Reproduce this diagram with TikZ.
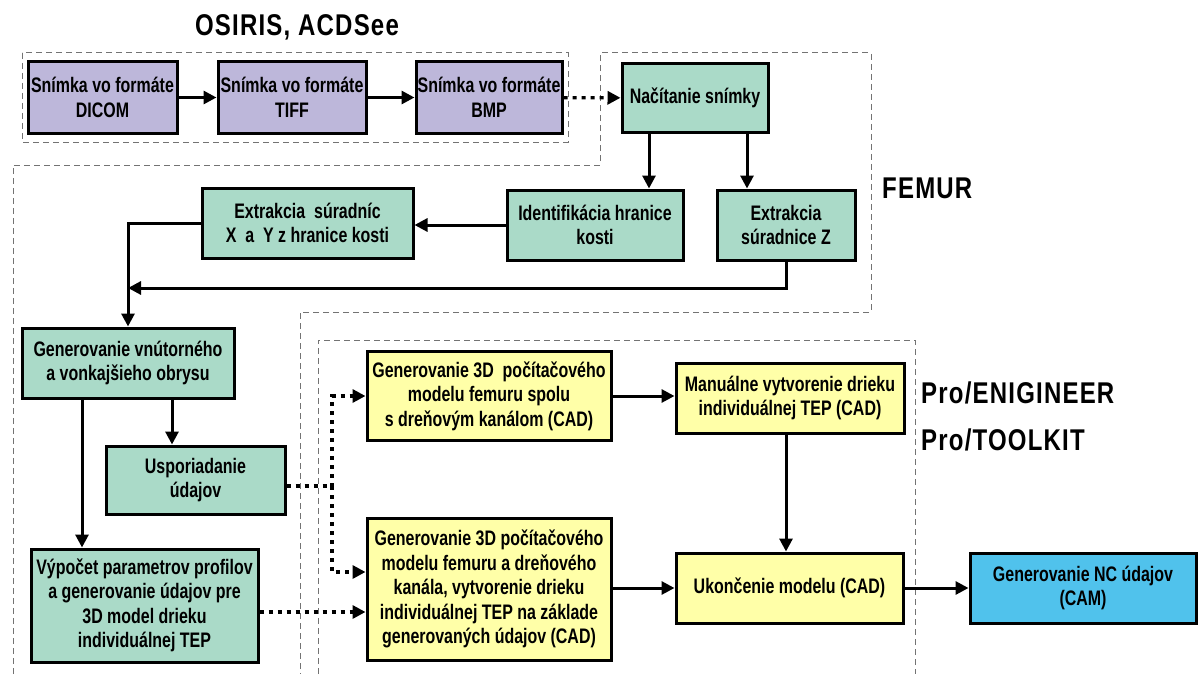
\documentclass[tikz,border=0pt]{standalone}
\usepackage{fontspec}
\setmainfont{Liberation Sans}[FakeStretch=0.76]
\newfontfamily\toolfont{Liberation Sans}[FakeStretch=0.8, LetterSpace=4]
\usetikzlibrary{arrows.meta}

\definecolor{boxpurple}{RGB}{189,183,218}
\definecolor{boxgreen}{RGB}{170,218,200}
\definecolor{boxyellow}{RGB}{255,255,168}
\definecolor{boxblue}{RGB}{80,194,236}

\tikzset{
  box/.style={draw, line width=3pt, align=center, inner sep=0pt,
    font=\bfseries\fontsize{21}{24.5}\selectfont},
  arr/.style={line width=3pt, -{Triangle[length=13pt,width=13pt]}},
  dotarr/.style={line width=3.2pt, dash pattern=on 4pt off 5pt, -{Triangle[length=13pt,width=13pt]}},
  region/.style={draw=black!55, line width=1pt, dash pattern=on 6pt off 4pt},
  tool/.style={font=\toolfont\bfseries\fontsize{30}{36}\selectfont, inner sep=0pt},
}

\begin{document}
\begin{tikzpicture}[x=1pt,y=1pt,yscale=-1,xscale=1]
\useasboundingbox (0,0) rectangle (1198,674);

% Regions
\draw [region] (22,53) rectangle (568,142);
\draw [region] (13,674) -- (13,165) -- (600,165) -- (600,53) -- (871,53) -- (871,312) -- (300,312) -- (300,674);
\draw [region] (318,674) -- (318,340) -- (915,340) -- (915,674);

% Tool labels
\node [tool] (osiris) at (297,27) {OSIRIS, ACDSee};
\node [tool, anchor=west] (femur) at (882,188) {FEMUR};
\node [tool, anchor=west] (proe) at (921,393) {Pro/ENIGINEER};
\node [tool, anchor=west] (protk) at (921,440) {Pro/TOOLKIT};

% Image formats
\node [box, fill=boxpurple, minimum width=149pt, minimum height=71pt] (dicom) at (102.5,97.5) {Snímka vo formáte\\DICOM};
\node [box, fill=boxpurple, minimum width=148pt, minimum height=71pt] (tiff) at (292,97.5) {Snímka vo formáte\\TIFF};
\node [box, fill=boxpurple, minimum width=146pt, minimum height=71pt] (bmp) at (489,97.5) {Snímka vo formáte\\BMP};

% Femur
\node [box, fill=boxgreen, minimum width=146pt, minimum height=69pt] (nacit) at (695,98) {Načítanie snímky};
\node [box, fill=boxgreen, minimum width=176pt, minimum height=70pt] (ident) at (595,225) {Identifikácia hranice\\kosti};
\node [box, fill=boxgreen, minimum width=138pt, minimum height=70pt] (zext) at (786,225) {Extrakcia\\súradnice Z};
\node [box, fill=boxgreen, minimum width=211pt, minimum height=70pt] (xyext) at (307.5,223) {Extrakcia~~súradníc\\X~~a~~Y z hranice kosti};
\node [box, fill=boxgreen, minimum width=212pt, minimum height=70pt] (obrys) at (128,363) {Generovanie vnútorného\\a vonkajšieho obrysu};
\node [box, fill=boxgreen, minimum width=179pt, minimum height=68pt] (uspor) at (195.5,480) {Usporiadanie\\údajov};
\node [box, fill=boxgreen, minimum width=227pt, minimum height=113pt] (vypoc) at (144.5,605.5) {Výpočet parametrov profilov\\a generovanie údajov pre\\3D model drieku\\individuálnej TEP};

% CAD / CAM
\node [box, fill=boxyellow, minimum width=244pt, minimum height=89pt] (model1) at (489,396) {Generovanie 3D~~počítačového\\modelu femuru spolu\\s dreňovým kanálom (CAD)};
\node [box, fill=boxyellow, minimum width=244pt, minimum height=142pt] (model2) at (489,589) {Generovanie 3D počítačového\\modelu femuru a dreňového\\kanála, vytvorenie drieku\\individuálnej TEP na základe\\generovaných údajov (CAD)};
\node [box, fill=boxyellow, minimum width=228pt, minimum height=70pt] (manual) at (790,398) {Manuálne vytvorenie drieku\\individuálnej TEP (CAD)};
\node [box, fill=boxyellow, minimum width=227pt, minimum height=70pt] (ukonc) at (789.5,588) {Ukončenie modelu (CAD)};
\node [box, fill=boxblue, minimum width=226pt, minimum height=70pt] (ncdata) at (1083,588) {Generovanie NC údajov\\(CAM)};

% Connections
\draw [arr] (dicom) -- (tiff);
\draw [arr] (tiff) -- (bmp);
\draw [dotarr] (bmp) -- (nacit);
\draw [arr] ([xshift=-46pt]nacit.south) -- ([xshift=-46pt]nacit.south |- ident.north);
\draw [arr] ([xshift=52pt]nacit.south) -- ([xshift=52pt]nacit.south |- zext.north);
\draw [arr] (ident.west) -- (xyext.east |- ident.west);
\coordinate (join) at (obrys.north |- 0,288);
\draw [arr] (zext.south) |- (join);
\draw [arr] (xyext.west) -| (obrys.north);
\draw [arr] ([xshift=-46pt]obrys.south) -- ([xshift=-46pt]obrys.south |- vypoc.north);
\draw [arr] ([xshift=44pt]obrys.south) -- ([xshift=44pt]obrys.south |- uspor.north);
\coordinate (fork) at (332,486);
\coordinate (in2) at ([yshift=-17pt]model2.west);
\coordinate (in3) at ([yshift=23pt]model2.west);
\draw [dotarr] (uspor.east |- fork) -- (fork) |- (model1.west);
\draw [dotarr] (fork) |- (in2);
\draw [dotarr] (vypoc.east |- in3) -- (in3);
\draw [arr] (model1.east) -- (manual.west |- model1.east);
\draw [arr] ([xshift=-4pt]manual.south) -- ([xshift=-4pt]manual.south |- ukonc.north);
\draw [arr] (model2.east |- ukonc.west) -- (ukonc.west);
\draw [arr] (ukonc) -- (ncdata);

\end{tikzpicture}
\end{document}
